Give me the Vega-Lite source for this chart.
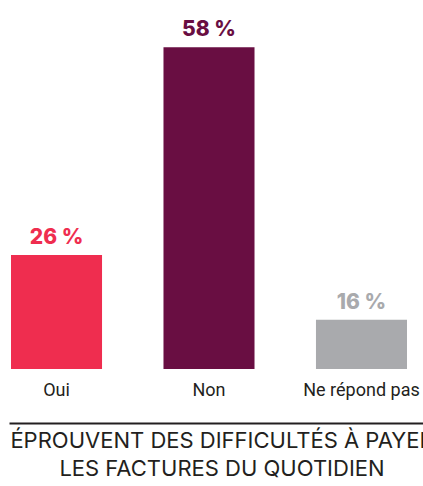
{
  "$schema": "https://vega.github.io/schema/vega-lite/v6.json",
  "width": 414,
  "height": 369,
  "autosize": "none",
  "padding": {"left": 9, "top": 0, "right": 0, "bottom": 117},
  "background": "white",
  "config": {"view": {"stroke": null}},
  "title": {
    "text": ["ÉPROUVENT DES DIFFICULTÉS À PAYER", "LES FACTURES DU QUOTIDIEN"],
    "orient": "bottom",
    "anchor": "middle",
    "font": "Inter",
    "fontSize": 22,
    "fontWeight": 400,
    "color": "#231f20",
    "offset": 8,
    "lineHeight": 28,
    "dx": 6
  },
  "data": {
    "values": [
      {"reponse": "Oui", "pct": 26, "label": "26 %"},
      {"reponse": "Non", "pct": 58, "label": "58 %"},
      {"reponse": "Ne répond pas", "pct": 16, "label": "16 %"}
    ]
  },
  "encoding": {
    "x": {
      "field": "reponse",
      "type": "nominal",
      "sort": null,
      "scale": {"paddingInner": 0.403, "paddingOuter": 0.059, "align": 0.111},
      "axis": {
        "title": null,
        "orient": "bottom",
        "offset": 54,
        "domain": true,
        "domainColor": "#231f20",
        "domainWidth": 2,
        "ticks": false,
        "grid": false,
        "labelPadding": -28,
        "labelBaseline": "alphabetic",
        "labelFont": "Roboto",
        "labelFontSize": 18,
        "labelColor": "#231f20",
        "labelAngle": 0
      }
    },
    "y": {
      "field": "pct",
      "type": "quantitative",
      "scale": {"domain": [8.42, 65.28], "zero": false, "nice": false},
      "axis": null
    },
    "color": {
      "field": "reponse",
      "type": "nominal",
      "scale": {
        "domain": ["Oui", "Non", "Ne répond pas"],
        "range": ["#EF2D4F", "#690E42", "#A9AAAD"]
      },
      "legend": null
    }
  },
  "layer": [
    {"mark": {"type": "bar", "clip": true}},
    {
      "mark": {
        "type": "text",
        "baseline": "alphabetic",
        "dy": -11,
        "font": "Inter",
        "fontSize": 21,
        "fontWeight": 800
      },
      "encoding": {"text": {"field": "label"}}
    }
  ]
}
